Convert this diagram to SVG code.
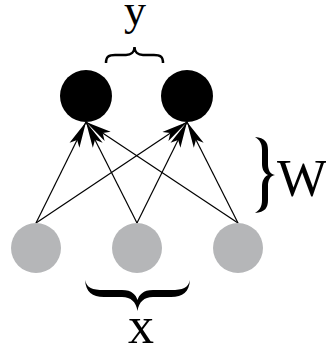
<svg xmlns="http://www.w3.org/2000/svg" width="326" height="349" viewBox="0 0 326 349">
<defs>
<style>
.out{fill:#000}
.in{fill:#b5b6b8}
.edge{stroke:#000;stroke-width:1.2;fill:none;marker-end:url(#ah)}
.lbl{font-family:"Liberation Serif","Times New Roman",serif;fill:#000}
.brace{fill:#000}
</style>
<marker id="ah" markerUnits="userSpaceOnUse" markerWidth="28" markerHeight="14" refX="26" refY="7" orient="auto" viewBox="0 0 28 14">
<path d="M26,7 L0,1.5 L6,7 L0,12.5 Z" fill="#000"/>
</marker>
</defs>
<g id="connectors">
<line class="edge" x1="36" y1="223" x2="86" y2="122"/>
<line class="edge" x1="137" y1="223" x2="86" y2="122"/>
<line class="edge" x1="238" y1="223" x2="86" y2="122"/>
<line class="edge" x1="36" y1="223" x2="187" y2="122"/>
<line class="edge" x1="137" y1="223" x2="187" y2="122"/>
<line class="edge" x1="238" y1="223" x2="187" y2="122"/>
</g>
<g id="y1"><circle class="out" cx="86" cy="96" r="26"/></g>
<g id="y2"><circle class="out" cx="187" cy="96" r="26"/></g>
<g id="x1"><circle class="in" cx="36" cy="248" r="25"/></g>
<g id="x2"><circle class="in" cx="137" cy="248" r="25"/></g>
<g id="x3"><circle class="in" cx="238" cy="248" r="25"/></g>
<g id="brace-y">
<path d="M106,63 C106,56 109,55 115,55 L126,55 C131,55 134.5,52 134.5,47 C134.5,52 138,55 143,55 L154,55 C160,55 163,56 163,63" fill="none" stroke="#000" stroke-width="2.5"/>
<text class="lbl" x="135" y="25" font-size="44" text-anchor="middle">y</text>
</g>
<g id="brace-x">
<path class="brace" d="M85,280 C86,292 92,297 104,297 L122,297 C131,297 136,302 137.5,311 C139,302 144,297 153,297 L171,297 C183,297 189,292 190,280 C188,288 183,290 171,290 L153,290 C143,290 139,295 137.5,300 C136,295 132,290 122,290 L104,290 C92,290 87,288 85,280 Z"/>
<text class="lbl" x="141" y="343" font-size="52" text-anchor="middle">x</text>
</g>
<g id="brace-w">
<path class="brace" d="M255,137 C265,138 268,142 268,150 L268,164 C268,170 270,174 275,175 C270,176 268,180 268,186 L268,200 C268,208 265,212 255,213 C260,210 262,206 262,200 L262,186 C262,181 264,177 268,175 C264,173 262,169 262,164 L262,150 C262,144 260,140 255,137 Z"/>
<text class="lbl" x="277" y="196" font-size="53">W</text>
</g>
</svg>
